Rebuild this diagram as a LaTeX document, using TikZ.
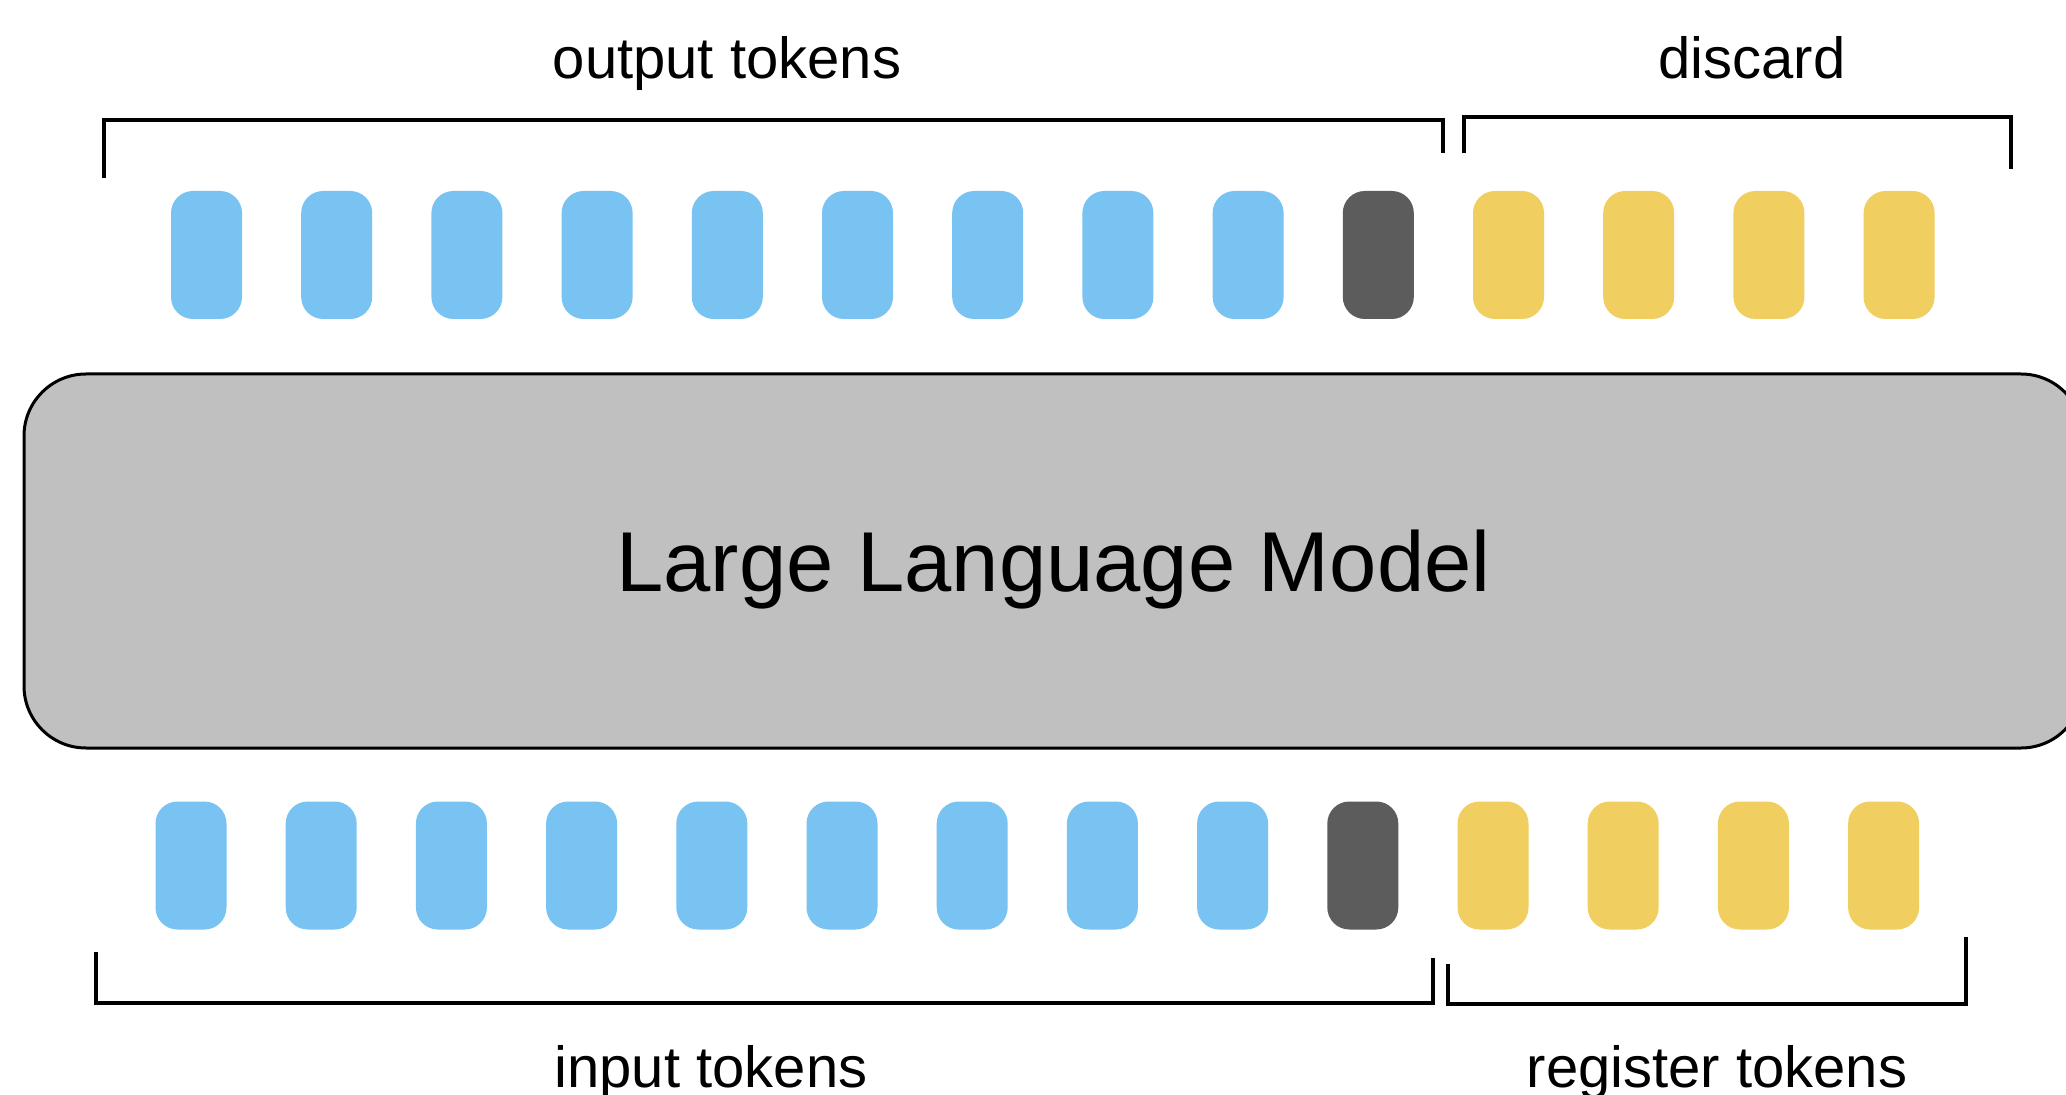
\documentclass[tikz,border=0pt]{standalone}
\usepackage{fontspec}
\setmainfont{Liberation Sans}
\definecolor{tokblue}{HTML}{78C3F2}
\definecolor{tokgold}{HTML}{F0CE60}
\definecolor{tokdark}{HTML}{5C5C5C}
\definecolor{llmgray}{HTML}{C0C0C0}
\tikzset{
	tok/.style={rectangle, rounded corners=11pt, minimum width=35.5pt, minimum height=64pt, inner sep=0pt},
	brace/.style={line width=2.2pt},
	lbl/.style={anchor=base, font=\fontsize{29}{34}\selectfont},
}
\begin{document}
\begin{tikzpicture}[x=0.5pt,y=-0.5pt]
		\clip (0,0) rectangle (2066,1095);
		\fill[white] (0,0) rectangle (2066,1095);

		\foreach \i in {0,...,13} {
				\ifnum\i<9
					\def\tc{tokblue}
				\else\ifnum\i=9
					\def\tc{tokdark}
				\else
					\def\tc{tokgold}
				\fi\fi
				\node[tok, fill=\tc] (out\i) at ({206.5+130.2*\i},255) {};
				\node[tok, fill=\tc] (in\i) at ({191+130.2*\i},865.5) {};
			}

		\node[draw, line width=1.5pt, fill=llmgray, rounded corners=31pt, minimum width=1029.5pt, minimum height=187pt, text depth=0pt, font=\fontsize{42.5}{50}\selectfont] (llm) at (1053.5,561) {Large Language Model};

		\draw[brace] (104,178) -- (104,120) -- (1443,120) -- (1443,153);
		\draw[brace] (1464,153) -- (1464,117) -- (2011,117) -- (2011,169);
		\draw[brace] (96,952) -- (96,1003) -- (1433,1003) -- (1433,958);
		\draw[brace] (1448,964) -- (1448,1004) -- (1966,1004) -- (1966,937);

		\node[lbl] (outlbl) at (727,79) {output tokens};
		\node[lbl] (dislbl) at (1752,79) {discard};
		\node[lbl] (inlbl) at (711,1087) {input tokens};
		\node[lbl] (reglbl) at (1717,1087) {register tokens};
	\end{tikzpicture}
\end{document}
